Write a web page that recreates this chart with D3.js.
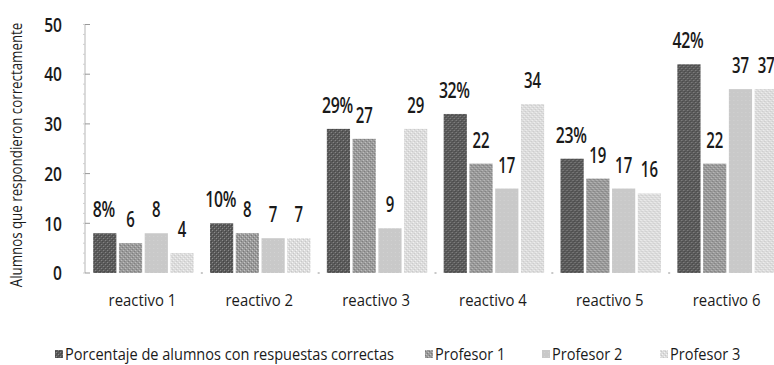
<!DOCTYPE html>
<html>
<head>
<meta charset="utf-8">
<script src="https://cdn.jsdelivr.net/npm/d3@7/dist/d3.min.js"></script>
<style>
  html, body { margin: 0; padding: 0; background: #fff; }
  svg { display: block; }
  text { font-family: "Open Sans", "Noto Sans", sans-serif; fill: #1a1a1a; }
</style>
</head>
<body>
<svg id="chart" width="774" height="365"></svg>
<script>
// Items of the test and the four series compared for each item
const categories = ["reactivo 1", "reactivo 2", "reactivo 3", "reactivo 4", "reactivo 5", "reactivo 6"];
const seriesNames = ["Porcentaje de alumnos con respuestas correctas", "Profesor 1", "Profesor 2", "Profesor 3"];
const porcentaje = [8, 10, 29, 32, 23, 42];
const profesor1 = [6, 8, 27, 22, 19, 22];
const profesor2 = [8, 7, 9, 17, 17, 37];
const profesor3 = [4, 7, 29, 34, 16, 37];
const yTicks = [0, 10, 20, 30, 40, 50];

const seriesValues = [porcentaje, profesor1, profesor2, profesor3];
const labelSuffix = ["%", "", "", ""];

const svg = d3.select("#chart");
const defs = svg.append("defs");

// Condensed text: the glyphs are squeezed horizontally around the anchor point
function label(parent, x, y, str, opt) {
  const g = parent.append("g").attr("transform", `translate(${x},${y})${opt.rotate ? ` rotate(${opt.rotate})` : ""}`);
  return g.append("text")
    .attr("transform", `scale(${opt.sx},1)`)
    .attr("text-anchor", opt.anchor || "middle")
    .attr("dy", opt.dy || 0)
    .attr("font-size", opt.size)
    .attr("font-weight", opt.weight || 400)
    .attr("letter-spacing", opt.ls || 0)
    .text(str);
}

// Dotted grey fills for the four series
function makePattern(id, base, dots) {
  const p = defs.append("pattern").attr("id", id)
    .attr("width", 4).attr("height", 4).attr("patternUnits", "userSpaceOnUse");
  p.append("rect").attr("width", 4).attr("height", 4).attr("fill", base);
  dots.forEach(([x, y, c]) => p.append("rect").attr("x", x).attr("y", y).attr("width", 1).attr("height", 1).attr("fill", c));
}
makePattern("pat0", "#5a5a5a", [[0,0,"#8c8c8c"],[2,2,"#8c8c8c"],[1,1,"#454545"],[3,3,"#454545"]]);
makePattern("pat1", "#9a9a9a", [[0,0,"#c4c4c4"],[2,2,"#c4c4c4"],[1,3,"#7a7a7a"],[3,1,"#7a7a7a"]]);
makePattern("pat2", "#c9c9c9", [[0,0,"#d2d2d2"]]);
makePattern("pat3", "#dcdcdc", [[0,0,"#f4f4f4"],[2,2,"#f4f4f4"],[1,3,"#c8c8c8"],[3,1,"#c8c8c8"]]);
const fills = ["url(#pat0)", "url(#pat1)", "url(#pat2)", "url(#pat3)"];

const x0 = d3.scaleBand().domain(categories).range([85, 786]).paddingInner(0.14).paddingOuter(0.07);
const x1 = d3.scaleBand().domain(d3.range(4)).range([0, x0.bandwidth()]).paddingInner(0.1);
const y = d3.scaleLinear().domain([0, 50]).range([273, 24.5]);

// Y axis: grey line, major ticks every 10, minor every 2
const axisG = svg.append("g");
axisG.append("line").attr("x1", 85).attr("x2", 85).attr("y1", y(50)).attr("y2", y(0))
  .attr("stroke", "#b5b5b5").attr("stroke-width", 1);
d3.range(0, 51, 2).forEach(v => {
  axisG.append("line").attr("x1", 83).attr("x2", 85).attr("y1", y(v)).attr("y2", y(v))
    .attr("stroke", "#cfcfcf").attr("stroke-width", 1);
});
yTicks.forEach(v => {
  axisG.append("line").attr("x1", 85).attr("x2", 90).attr("y1", y(v)).attr("y2", y(v))
    .attr("stroke", "#999").attr("stroke-width", 1);
  label(axisG, 62, y(v), v, { sx: 0.78, size: 20, weight: 600, anchor: "end", dy: "0.36em" });
});

// Faint separators on the baseline between items
axisG.selectAll("rect.sep").data(categories.slice(1)).join("rect").attr("class", "sep")
  .attr("x", d => x0(d) - x0.step() * x0.paddingInner() / 2 - 1).attr("y", y(0) - 1)
  .attr("width", 2).attr("height", 2).attr("fill", "#c8c8c8");

// Axis title
label(svg, 17, 155, "Alumnos que respondieron correctamente", { sx: 0.86, size: 15.5, rotate: -90, dy: "0.35em" });

// Bars and value labels
const groups = svg.append("g").selectAll("g").data(categories).join("g")
  .attr("transform", d => `translate(${x0(d)},0)`);

groups.each(function(cat, ci) {
  const g = d3.select(this);
  seriesValues.forEach((vals, si) => {
    const v = vals[ci];
    g.append("rect")
      .attr("x", x1(si)).attr("width", x1.bandwidth())
      .attr("y", y(v)).attr("height", y(0) - y(v))
      .attr("fill", fills[si]);
  });
  seriesValues.forEach((vals, si) => {
    const v = vals[ci];
    label(g, x1(si) + x1.bandwidth() / 2 + (si === 0 ? -1 : 0), y(v) - 16, v + labelSuffix[si],
      { sx: si === 0 ? 0.72 : 0.68, size: 22, weight: 600, ls: si === 0 ? -0.5 : 0 });
  });
});

// Category labels
categories.forEach(c => {
  label(svg, x0(c) + x0.bandwidth() / 2 - 1, 306, c, { sx: 0.93, size: 16 });
});

// Legend
const legendX = [55, 425, 542, 660];
seriesNames.forEach((name, i) => {
  svg.append("rect").attr("x", legendX[i]).attr("y", 350).attr("width", 8).attr("height", 8)
    .attr("fill", fills[i]);
  label(svg, legendX[i] + 10, 354, name, { sx: 0.91, size: 16, anchor: "start", dy: "0.36em" });
});
</script>
</body>
</html>
